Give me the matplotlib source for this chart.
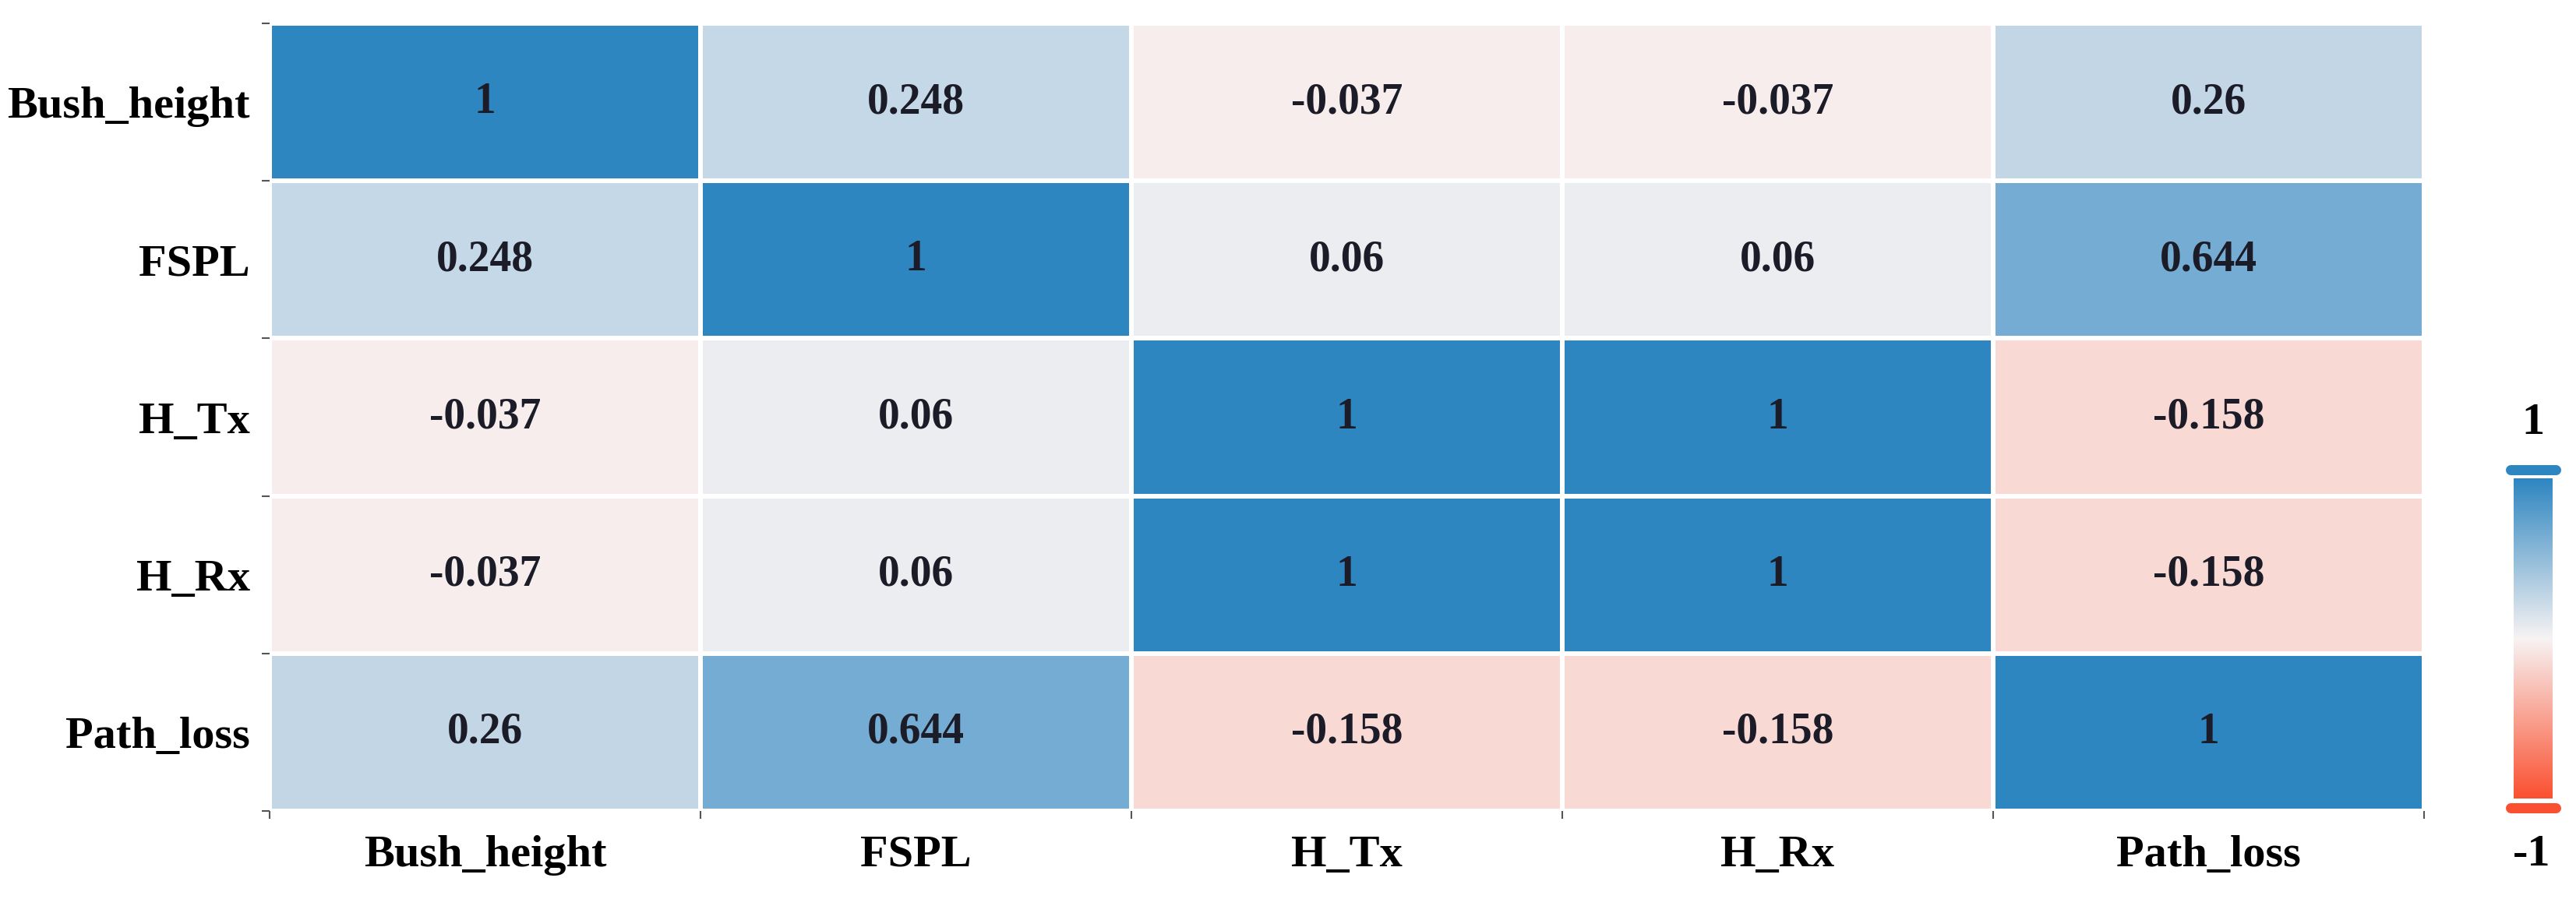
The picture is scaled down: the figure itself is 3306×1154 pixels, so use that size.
import numpy as np
import matplotlib
matplotlib.use("Agg")
import matplotlib.pyplot as plt
from matplotlib.colors import LinearSegmentedColormap
from matplotlib.lines import Line2D

labels = ["Bush_height", "FSPL", "H_Tx", "H_Rx", "Path_loss"]
row_bush = [1, 0.248, -0.037, -0.037, 0.26]
row_fspl = [0.248, 1, 0.06, 0.06, 0.644]
row_htx = [-0.037, 0.06, 1, 1, -0.158]
row_hrx = [-0.037, 0.06, 1, 1, -0.158]
row_path = [0.26, 0.644, -0.158, -0.158, 1]
corr = np.array([row_bush, row_fspl, row_htx, row_hrx, row_path])
cbar_ticklabels = ["1", "-1"]

W, H = 3306, 1154
DPI = 100
fig = plt.figure(figsize=(W / DPI, H / DPI), dpi=DPI)
plt.rcParams['font.family'] = ['Liberation Serif', 'DejaVu Serif']

cmap = LinearSegmentedColormap.from_list("rb", ["#fb5030", "#f7f3f3", "#2e86c1"])

def fx(px):
    return px / W

def fy(py):
    return 1 - py / H

ax = fig.add_axes([fx(346), fy(1041), fx(3111) - fx(346), fy(30) - fy(1041)])
n = len(labels)
ax.pcolormesh(np.arange(n + 1), np.arange(n + 1), corr, cmap=cmap,
              vmin=-1, vmax=1, edgecolors="white", linewidth=3)
ax.set_xlim(0, n)
ax.set_ylim(n, 0)
for s in ax.spines.values():
    s.set_visible(False)

ax.set_xticks(np.arange(n) + 0.5)
ax.set_yticks(np.arange(n) + 0.5)
ax.set_xticklabels(labels, fontsize=42, fontweight="bold")
ax.set_yticklabels(labels, fontsize=42, fontweight="bold")
ax.tick_params(axis="both", which="major", length=0, pad=18)
ax.tick_params(axis="x", which="major", pad=22)
ax.set_xticks(np.arange(n + 1), minor=True)
ax.set_yticks(np.arange(n + 1), minor=True)
ax.tick_params(axis="both", which="minor", length=7, width=1.5, color="#555555")

for i in range(n):
    for j in range(n):
        v = corr[i, j]
        txt = "1" if v == 1 else f"{v:g}"
        ax.text(j + 0.5, i + 0.5, txt, ha="center", va="center",
                fontsize=40, fontweight="bold", color="#1c1c28")

# colorbar
cb_left, cb_right = 3226, 3276
cb_top, cb_bot = 614, 1025
cax = fig.add_axes([fx(cb_left), fy(cb_bot), fx(cb_right) - fx(cb_left), fy(cb_top) - fy(cb_bot)])
grad = np.linspace(1, -1, 256).reshape(-1, 1)
cax.imshow(grad, aspect="auto", cmap=cmap, vmin=-1, vmax=1,
           extent=[0, 1, -1, 1], origin="upper")
cax.set_xticks([])
cax.set_yticks([])
for s in cax.spines.values():
    s.set_visible(False)

cap_lw = 13 * 72 / DPI
for ypx, col in [(603, cmap(1.0)), (1037, cmap(0.0))]:
    fig.add_artist(Line2D([fx(cb_left - 4), fx(cb_right + 4)], [fy(ypx), fy(ypx)],
                          transform=fig.transFigure, color=col, linewidth=cap_lw,
                          solid_capstyle="round"))

fig.text(fx(3251), fy(543), cbar_ticklabels[0], ha="center", va="center",
         fontsize=42, fontweight="bold")
fig.text(fx(3249), fy(1097), cbar_ticklabels[1], ha="center", va="center",
         fontsize=42, fontweight="bold")

fig.savefig("out.png", dpi=DPI, facecolor="white")
